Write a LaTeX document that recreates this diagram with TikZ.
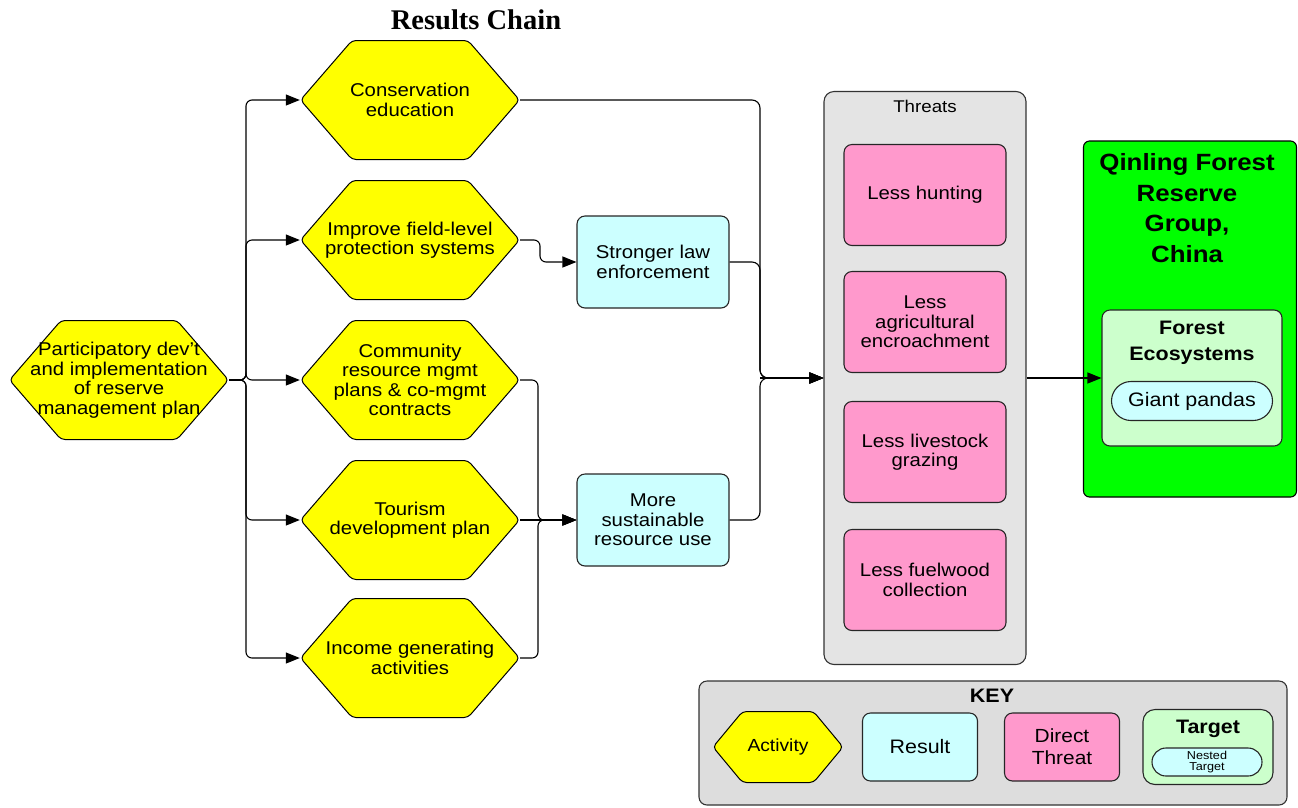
\documentclass[tikz,border=0pt]{standalone}
\usepackage{fontspec}
\setmainfont{Liberation Sans}[FakeStretch=1.1]
\newfontfamily\titlefont{Liberation Serif}
\usetikzlibrary{arrows.meta,positioning}

\definecolor{actyellow}{HTML}{FFFF00}
\definecolor{rescyan}{HTML}{CCFFFF}
\definecolor{thrpink}{HTML}{FF99CC}
\definecolor{trggreen}{HTML}{00FF00}
\definecolor{nestgreen}{HTML}{CCFFCC}
\definecolor{boxgray}{HTML}{E4E4E4}
\definecolor{keygray}{HTML}{DDDDDD}

\newcommand\actfont{\fontsize{18.5}{19.5}\selectfont}
\newcommand\bigbold{\bfseries\fontsize{23.5}{30.5}\selectfont}
\newcommand\midbold{\bfseries\fontsize{19.5}{26}\selectfont}
\newcommand\nestfont{\fontsize{11.5}{11.5}\selectfont}

\tikzset{
    hexa/.style={minimum width=220pt, minimum height=120pt, inner sep=0pt, align=center, font=\actfont,
        path picture={\draw[line width=1pt, fill=actyellow, rounded corners=4pt]
            ([xshift=0.5pt]path picture bounding box.west)
            -- ([xshift=#1, yshift=-0.5pt]path picture bounding box.north west)
            -- ([xshift=-#1, yshift=-0.5pt]path picture bounding box.north east)
            -- ([xshift=-0.5pt]path picture bounding box.east)
            -- ([xshift=-#1, yshift=0.5pt]path picture bounding box.south east)
            -- ([xshift=#1, yshift=0.5pt]path picture bounding box.south west) -- cycle;}},
    hexa/.default=52pt,
    result/.style={draw=black!85, line width=1.1pt, fill=rescyan, rounded corners=8pt,
        minimum width=152pt, minimum height=92pt, align=center, font=\actfont},
    threat/.style={draw=black!85, line width=1.1pt, fill=thrpink, rounded corners=8pt,
        minimum width=162pt, minimum height=101pt, align=center, font=\actfont},
    pill/.style={draw=black!85, line width=1.1pt, fill=rescyan, rounded corners=19.5pt,
        minimum width=161pt, minimum height=39pt, inner sep=0pt, align=center, font=\actfont},
    arr/.style={-{Triangle[length=14pt,width=11pt]}, line width=1.1pt},
}

\begin{document}
\begin{tikzpicture}[x=1pt, y=-1pt]
        \useasboundingbox (0,0) rectangle (1298,807);

        \node[font={\titlefont\bfseries\fontsize{28.5}{30}\selectfont}] (title) at (476,20) {Results Chain};

        \node[hexa] (pd) at (119,380) {Participatory dev’t\\and implementation\\of reserve\\management plan};
        \node[hexa] (ce) at (410,100) {Conservation\\education};
        \node[hexa] (fp) at (410,240) {Improve field-level\\protection systems};
        \node[hexa] (cr) at (410,380) {Community\\resource mgmt\\plans \& co-mgmt\\contracts};
        \node[hexa] (td) at (410,520) {Tourism\\development plan};
        \node[hexa] (ig) at (410,658) {Income generating\\activities};

        \node[result] (sl) at (653,262) {Stronger law\\enforcement};
        \node[result] (msr) at (653,520) {More\\sustainable\\resource use};

        \node[draw=black!80, line width=1.1pt, fill=boxgray, rounded corners=10pt,
            minimum width=202pt, minimum height=573pt] (thr) at (925,378) {};
        \node[font=\fontsize{17}{19}\selectfont] (thrlbl) at (925,106) {Threats};
        \node[threat] (lh) at (925,195) {Less hunting};
        \node[threat] (la) at (925,322) {Less\\agricultural\\encroachment};
        \node[threat] (ll) at (925,452) {Less livestock\\grazing};
        \node[threat] (lf) at (925,580) {Less fuelwood\\collection};

        \node[draw, line width=1.1pt, fill=trggreen, rounded corners=6pt,
            minimum width=213pt, minimum height=356pt] (trg) at (1190,319) {};
        \node[font=\bigbold, align=center] (trglbl) at (1187,208) {Qinling Forest\\Reserve\\Group,\\China};
        \node[draw=black!85, line width=1.1pt, fill=nestgreen, rounded corners=8pt,
            minimum width=180pt, minimum height=136pt] (fe) at (1192,378) {};
        \node[font=\midbold, align=center] (felbl) at (1192,343) {Forest\\Ecosystems};
        \node[pill, font=\fontsize{19.5}{21}\selectfont] (gp) at (1192,401) {Giant pandas};

        \coordinate (lj) at (246,380);
        \foreach \n in {ce,fp,cr,td,ig}
            \draw[arr, rounded corners=6pt] (pd.east) -- (lj) |- (\n.west);

        \coordinate (fj) at (540,262);
        \draw[arr, rounded corners=6pt] (fp.east) -| (fj) -- (sl.west);

        \coordinate (mj) at (538,520);
        \draw[arr, rounded corners=6pt] (cr.east) -| (mj) -- (msr.west);
        \draw[arr] (td.east) -- (msr.west);
        \draw[arr, rounded corners=6pt] (ig.east) -| (mj) -- (msr.west);

        \coordinate (jn) at (760,378);
        \foreach \n in {ce,sl,msr}
            \draw[arr, rounded corners=8pt] (\n.east) -| (jn) -- (thr.west);
        \draw[arr, line width=1.8pt] (jn) -- (thr.west);

        \draw[arr] (thr.east) -- (fe.west);

        \node[draw=black!80, line width=1.1pt, fill=keygray, rounded corners=8pt,
            minimum width=588pt, minimum height=124pt] (key) at (993,743) {};
        \node[font=\midbold] (keylbl) at (992,696) {KEY};
        \node[hexa=30pt, minimum width=131pt, minimum height=72pt, font=\fontsize{17.5}{19}\selectfont] (kact) at (778,747) {Activity};
        \node[result, minimum width=115pt, minimum height=68pt, font=\fontsize{19.5}{22}\selectfont] (kres) at (920,747) {Result};
        \node[threat, minimum width=115pt, minimum height=68pt, font=\fontsize{19}{22}\selectfont] (kthr) at (1062,747) {Direct\\Threat};
        \node[draw=black!85, line width=1.1pt, fill=nestgreen, rounded corners=12pt,
            minimum width=130pt, minimum height=75pt] (ktrg) at (1208,747) {};
        \node[font=\midbold] (ktrglbl) at (1208,729) {Target};
        \node[pill, minimum width=110pt, minimum height=28pt, rounded corners=14pt, font=\nestfont] (knest) at (1207,762) {Nested\\Target};
\end{tikzpicture}
\end{document}
